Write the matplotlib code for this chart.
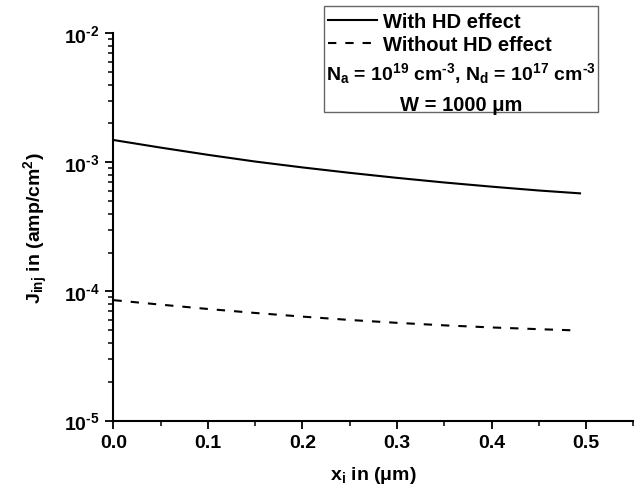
import matplotlib
matplotlib.use('Agg')
import matplotlib.pyplot as plt
from matplotlib.patches import Rectangle
from matplotlib.ticker import MultipleLocator, FixedLocator, FuncFormatter, NullFormatter
import numpy as np

plt.rcParams['font.family'] = ['Liberation Sans', 'DejaVu Sans']
plt.rcParams['font.weight'] = 'bold'
plt.rcParams['mathtext.fontset'] = 'custom'
plt.rcParams['mathtext.rm'] = 'Liberation Sans:bold'
plt.rcParams['mathtext.it'] = 'Liberation Sans:bold'
plt.rcParams['mathtext.bf'] = 'Liberation Sans:bold'
plt.rcParams['mathtext.default'] = 'rm'

# valeurs
x_with = [0.0, 0.05, 0.10, 0.15, 0.20, 0.25, 0.30, 0.35, 0.40, 0.45, 0.4936]
j_with = [1.489e-3, 1.300e-3, 1.143e-3, 1.014e-3, 9.13e-4, 8.29e-4,
          7.58e-4, 6.98e-4, 6.48e-4, 6.05e-4, 5.75e-4]
x_without = [0.0, 0.05, 0.10, 0.15, 0.20, 0.25, 0.30, 0.35, 0.40, 0.45, 0.492]
j_without = [8.56e-5, 7.90e-5, 7.31e-5, 6.81e-5, 6.38e-5, 6.01e-5,
             5.71e-5, 5.46e-5, 5.26e-5, 5.10e-5, 4.98e-5]

fig = plt.figure(figsize=(6.41, 4.89), dpi=100)
ax = fig.add_axes([0.177, 0.138, 0.811, 0.792])

l1, = ax.plot(x_with, j_with, color='black', lw=1.5, ls='-')
l2, = ax.plot(x_without, j_without, color='black', lw=1.5, ls=(0, (4, 4.3)))

ax.set_yscale('log')
ax.set_ylim(1e-5, 1e-2)
ax.set_xlim(0, 0.55)
ax.xaxis.set_major_locator(MultipleLocator(0.1))
ax.xaxis.set_minor_locator(MultipleLocator(0.05))
ax.yaxis.set_major_locator(FixedLocator([1e-5, 1e-4, 1e-3, 1e-2]))
ax.yaxis.set_minor_locator(FixedLocator([k * 10.0 ** e for e in (-5, -4, -3) for k in range(2, 10)]))
ax.yaxis.set_minor_formatter(NullFormatter())
ax.yaxis.set_major_formatter(FuncFormatter(
    lambda v, p: r'10$^{\text{-}%d}$' % round(-np.log10(v))))

for s in ['top', 'right']:
    ax.spines[s].set_visible(False)
for s in ['left', 'bottom']:
    ax.spines[s].set_linewidth(1.5)

ax.tick_params(which='major', direction='out', length=6, width=1.3, labelsize=14, pad=4)
ax.tick_params(which='minor', direction='out', length=3.5, width=1.1)
ax.yaxis.set_tick_params(which='minor', left=True, length=3.5, width=1.1)

ax.set_xlabel(r'x$_\mathregular{i}$ in ($\mu$m)', fontsize=14, fontweight='bold', labelpad=9)
ax.set_ylabel(r'J$_\mathregular{inj}$ in (amp/cm$^\mathregular{2}$)', fontsize=14, fontweight='bold', labelpad=10)

# cadre de la légende
box = Rectangle((0.5055, 0.769), 0.4275, 0.217, transform=fig.transFigure,
                facecolor='white', edgecolor='#666666', lw=1.0, zorder=5)
fig.patches.append(box)

fig.legend([l1, l2], ['With HD effect', 'Without HD effect'],
           loc='upper left', bbox_to_anchor=(0.511, 0.974), frameon=False,
           fontsize=14.5, handlelength=2.45, handletextpad=0.3, labelspacing=0.2,
           borderaxespad=0, borderpad=0)

fig.text(0.719, 0.849,
         r'N$_\mathregular{a}$ = 10$^{19}$ cm$^{\text{-}3}$, N$_\mathregular{d}$ = 10$^{17}$ cm$^{\text{-}3}$',
         ha='center', va='center', fontsize=14, fontweight='bold', zorder=6)
fig.text(0.719, 0.785, 'W = 1000 μm', ha='center', va='center',
         fontsize=14.5, fontweight='bold', zorder=6)

fig.savefig('out.png', dpi=100)
